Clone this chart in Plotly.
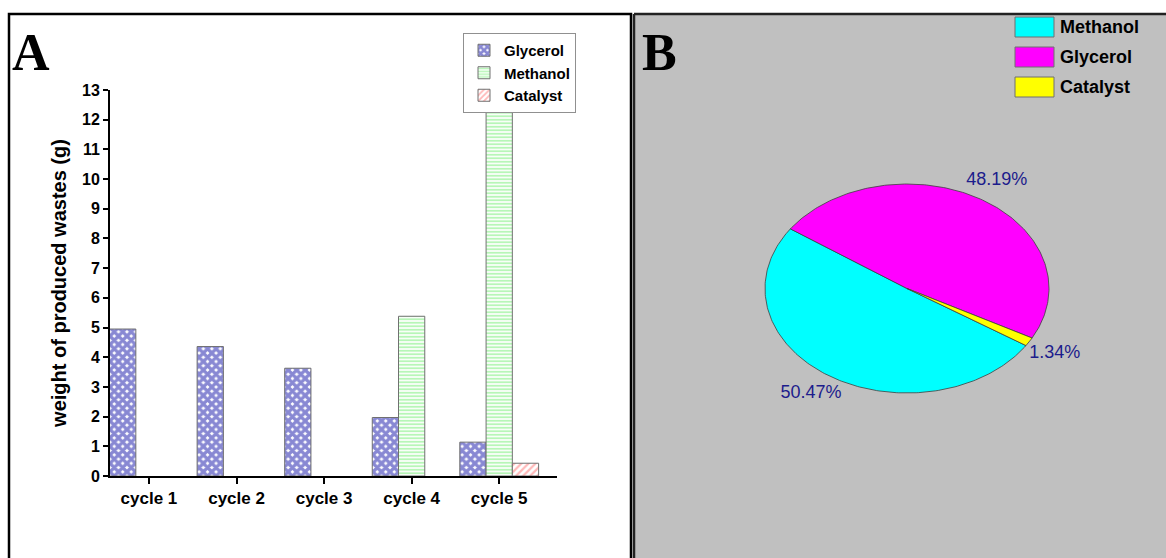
import math
import plotly.graph_objects as go

# ---------------- data ----------------
cycles = ["cycle 1", "cycle 2", "cycle 3", "cycle 4", "cycle 5"]
glycerol = [4.95, 4.36, 3.63, 1.97, 1.14]
methanol = [0, 0, 0, 5.38, 12.48]
catalyst = [0, 0, 0, 0, 0.43]

pie_labels = ["Methanol", "Glycerol", "Catalyst"]
pie_values = [50.47, 48.19, 1.34]
pie_colors = ["#00FFFF", "#FF00FF", "#FFFF00"]

W, H = 1166, 558

def px(x):
    return x / W

def py(y):
    return 1 - y / H

fig = go.Figure()

# ---------------- panel A: bars ----------------
bar_specs = [
    ("Glycerol", glycerol, dict(shape="x", fgcolor="#1212a8", bgcolor="white", size=6, solidity=0.8)),
    ("Methanol", methanol, dict(shape="-", fgcolor="#70EE70", bgcolor="white", size=3.5, solidity=0.55)),
    ("Catalyst", catalyst, dict(shape="/", fgcolor="#ff7070", bgcolor="white", size=5, solidity=0.45)),
]
for name, vals, pat in bar_specs:
    fig.add_trace(go.Bar(
        x=cycles, y=[v if v > 0 else None for v in vals], name=name, xaxis="x", yaxis="y",
        marker=dict(color="white", pattern=pat, line=dict(color="#707070", width=1)),
        legend="legend",
    ))

# ---------------- panel B: elliptical pie ----------------
start_deg = -33.1
total = sum(pie_values)
cum = 0.0
label_r = 1.21
for lab, val, col in zip(pie_labels, pie_values, pie_colors):
    a0 = start_deg - 360 * cum / total
    a1 = start_deg - 360 * (cum + val) / total
    n = max(4, int(abs(a1 - a0)))
    xs, ys = [0.0], [0.0]
    for k in range(n + 1):
        a = math.radians(a0 + (a1 - a0) * k / n)
        xs.append(math.cos(a))
        ys.append(math.sin(a))
    xs.append(0.0)
    ys.append(0.0)
    fig.add_trace(go.Scatter(
        x=xs, y=ys, xaxis="x2", yaxis="y2", mode="lines", fill="toself",
        fillcolor=col, line=dict(color="#404040", width=0.8), showlegend=False,
        hoverinfo="skip",
    ))
    am = math.radians((a0 + a1) / 2)
    fig.add_trace(go.Scatter(
        x=[label_r * math.cos(am)], y=[label_r * math.sin(am)], xaxis="x2", yaxis="y2",
        mode="text", text=[f"{val:.2f}%"],
        textfont=dict(family="Arial, Liberation Sans", size=18, color="#1c1c8c"),
        showlegend=False, hoverinfo="skip",
    ))
    cum += val

shapes = []
annotations = []

# panel backgrounds & borders
shapes.append(dict(type="rect", xref="paper", yref="paper", x0=px(635), x1=1.0, y0=0, y1=py(15),
                   fillcolor="#C0C0C0", line=dict(width=0), layer="below"))
shapes.append(dict(type="rect", xref="paper", yref="paper", x0=px(9), x1=px(631), y0=py(561), y1=py(14),
                   fillcolor="rgba(0,0,0,0)", line=dict(color="black", width=2.5), layer="above"))
shapes.append(dict(type="line", xref="paper", yref="paper", x0=px(634), x1=1.0, y0=py(14), y1=py(14),
                   line=dict(color="#222222", width=2.5)))
shapes.append(dict(type="line", xref="paper", yref="paper", x0=px(634), x1=px(634), y0=0, y1=py(14),
                   line=dict(color="#222222", width=2.5)))

# panel letters
annotations.append(dict(text="<b>A</b>", x=px(10), y=py(22), xref="paper", yref="paper",
                        xanchor="left", yanchor="top", showarrow=False,
                        font=dict(family="Liberation Serif, Times New Roman", size=52, color="black")))
annotations.append(dict(text="<b>B</b>", x=px(640), y=py(22), xref="paper", yref="paper",
                        xanchor="left", yanchor="top", showarrow=False,
                        font=dict(family="Liberation Serif, Times New Roman", size=52, color="black")))

# legend for panel B
leg_y = [27, 57, 87]
for lab, col, yy in zip(pie_labels, pie_colors, leg_y):
    shapes.append(dict(type="rect", xref="paper", yref="paper", x0=px(1015), x1=px(1054),
                       y0=py(yy + 10), y1=py(yy - 10), fillcolor=col,
                       line=dict(color="#707070", width=1)))
    annotations.append(dict(text=lab, x=px(1058), y=py(yy), xref="paper", yref="paper",
                            xanchor="left", yanchor="middle", showarrow=False,
                            font=dict(family="Liberation Sans Narrow, Arial Narrow, Liberation Sans",
                                      size=18, color="black", weight="bold")))

# pie axes geometry
cx, cy, rx, ry = 907, 288.5, 142, 104.5
bx0, bx1, by0, by1 = 635, 1166, 15, 558

fig.update_layout(
    width=W, height=H,
    margin=dict(l=0, r=0, t=0, b=0, pad=0, autoexpand=False),
    paper_bgcolor="white",
    plot_bgcolor="rgba(0,0,0,0)",
    barmode="group", bargap=0.1, bargroupgap=0,
    font=dict(family="Liberation Sans, Arial", color="black"),
    xaxis=dict(domain=[px(110), px(557)], anchor="y", range=[-0.445, 4.66], automargin=False,
               showline=True, linecolor="black", linewidth=2, ticks="outside", ticklen=6,
               tickwidth=2, tickcolor="black", showgrid=False, zeroline=False,
               tickfont=dict(size=17, weight="bold", color="black")),
    yaxis=dict(domain=[py(476), py(90)], anchor="x", range=[0, 13], dtick=1, automargin=False,
               showline=True, linecolor="black", linewidth=2, ticks="outside", ticklen=5,
               tickwidth=2, tickcolor="black", showgrid=False, zeroline=False,
               tickfont=dict(size=16, weight="bold", color="black"),
               title=dict(text="weight of produced wastes (g)", standoff=10,
                          font=dict(size=20, weight="bold", color="black"))),
    xaxis2=dict(domain=[px(bx0), px(bx1)], anchor="y2", automargin=False,
                range=[(bx0 - cx) / rx, (bx1 - cx) / rx], visible=False),
    yaxis2=dict(domain=[py(by1), py(by0)], anchor="x2", automargin=False,
                range=[-(by1 - cy) / ry, (cy - by0) / ry], visible=False),
    legend=dict(x=px(463), y=py(33), xanchor="left", yanchor="top",
                bordercolor="#909090", borderwidth=1, bgcolor="white",
                font=dict(size=15, weight="bold", color="black"),
                tracegroupgap=0, itemwidth=30),
    shapes=shapes,
    annotations=annotations,
)

fig.write_html("out.html")
